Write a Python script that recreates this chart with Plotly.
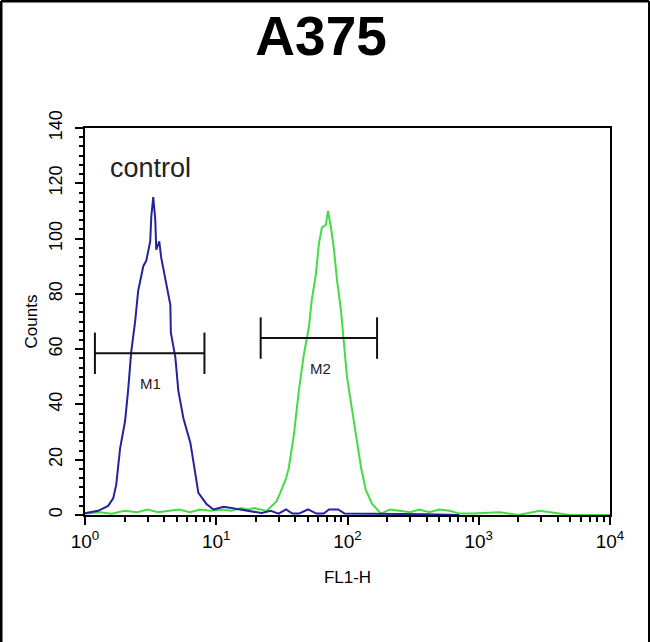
import math
import plotly.graph_objects as go

# ---- data ----
blue_x = [1.00, 1.02, 1.26, 1.50, 1.64, 1.73, 1.85, 2.02, 2.13, 2.25, 2.41, 2.54, 2.78, 2.93,
          3.14, 3.20, 3.31, 3.43, 3.49, 3.68, 3.81, 4.09, 4.47, 4.51, 4.88, 5.14, 5.62, 6.36,
          6.94, 7.31, 8.42, 9.52, 11.4, 14.8, 18.0, 22.2, 26.0, 29.9, 34.0, 38.0, 42.6, 50.0,
          58.0, 66.0, 72.2, 85.0, 95.0, 105.0, 122.0, 180.0, 248.0, 400.0, 713.0]
blue_y = [0.5, 0.7, 1.5, 3.3, 6, 11, 24, 34, 45, 59, 70, 81, 90, 92,
          99, 108, 115, 107, 96, 99, 93, 86, 76, 66, 57, 45, 35, 26,
          15, 8, 4, 2, 3, 2, 1.5, 0.7, 1.5, 0.5, 2, 0.5, 0.5, 2,
          0.5, 0.5, 2, 2, 0.5, 0.5, 0.3, 0.3, 0.3, 0.3, 0]

green_x = [1.0, 1.3, 1.6, 2.0, 2.5, 3.0, 3.6, 4.3, 5.2, 6.3, 7.5, 9.0, 11.0, 13.0, 15.5,
           17.5, 19.3, 21.8, 24.2, 28.9, 33.9, 35.7, 39.0, 42.6, 46.5, 50.8, 53.5, 57.4,
           60.5, 63.8, 68.5, 71.0, 74.8, 78.9, 83.2, 89.2, 94.0, 99.1, 106, 116, 127, 138,
           154, 180, 210, 248, 300, 352, 420, 501, 600, 713, 900, 1442, 2000, 2915, 4944,
           8380, 10000]
green_y = [0.5, 1, 0.5, 1.5, 1, 2, 1, 1.5, 2, 1, 2, 1.5, 2, 1.5, 2.5,
           2, 2.5, 2, 1.5, 5, 13, 17, 29, 45, 58, 68, 78, 87,
           98, 104, 105, 110, 104, 96, 85, 74, 63, 50, 41, 29, 17, 9,
           4, 0.5, 2, 1.5, 1, 2, 1, 2, 1.5, 0.5, 0.5, 1, 0, 1.5, 0,
           0, 0]

marker_names = ["M1", "M2"]
marker_start = [1.19, 21.8]
marker_end = [8.13, 168.0]
marker_level = [58.5, 64.0]
marker_label_x = [3.14, 62.7]
marker_label_y = [47.5, 53.0]

x_tick_vals = [1, 10, 100, 1000, 10000]
x_tick_text = ["10<sup>0</sup>", "10<sup>1</sup>", "10<sup>2</sup>", "10<sup>3</sup>", "10<sup>4</sup>"]
y_tick_vals = [0, 20, 40, 60, 80, 100, 120, 140]

title_text = "A375"
sample_label = "control"
sample_label_x = 3.14
sample_label_y = 125.5

BLUE = "#23239c"
GREEN = "#44dc44"
FONT = "Liberation Sans, Arial, sans-serif"
CAP = 7.5

fig = go.Figure()
fig.add_trace(go.Scatter(x=green_x, y=green_y, mode="lines",
                         line=dict(color=GREEN, width=2), hoverinfo="skip"))
fig.add_trace(go.Scatter(x=blue_x, y=blue_y, mode="lines",
                         line=dict(color=BLUE, width=2), hoverinfo="skip"))

for name, s, e, lv, lx, ly in zip(marker_names, marker_start, marker_end, marker_level,
                                   marker_label_x, marker_label_y):
    fig.add_trace(go.Scatter(x=[s, e], y=[lv, lv], mode="lines",
                             line=dict(color="#111111", width=2), hoverinfo="skip"))
    fig.add_trace(go.Scatter(x=[s, s], y=[lv - CAP, lv + CAP], mode="lines",
                             line=dict(color="#111111", width=2), hoverinfo="skip"))
    fig.add_trace(go.Scatter(x=[e, e], y=[lv - CAP, lv + CAP], mode="lines",
                             line=dict(color="#111111", width=2), hoverinfo="skip"))
    fig.add_annotation(x=math.log10(lx), y=ly, xref="x", yref="y", text=name,
                       showarrow=False, font=dict(family=FONT, size=15, color="#222222"))

fig.add_annotation(x=math.log10(sample_label_x), y=sample_label_y, xref="x", yref="y",
                   text=sample_label, showarrow=False,
                   font=dict(family=FONT, size=27, color="#222222"))

minor_x = [d * 10 ** k for k in range(4) for d in range(2, 10)]

fig.update_layout(
    width=650, height=642,
    margin=dict(l=85, r=40, t=128, b=127),
    paper_bgcolor="white", plot_bgcolor="white",
    showlegend=False,
    title=dict(text="<b>" + title_text + "</b>", x=0.494, xanchor="center",
               y=0.945, yanchor="middle",
               font=dict(family=FONT, size=55, color="black")),
    xaxis=dict(type="log", range=[0, 4], tickmode="array", tickvals=x_tick_vals,
               ticktext=x_tick_text, ticks="outside", ticklen=8, tickwidth=2,
               tickcolor="black", showline=True, linecolor="black", linewidth=2,
               mirror=True, showgrid=False, zeroline=False,
               tickfont=dict(family=FONT, size=19, color="black"),
               title=dict(text="FL1-H", standoff=20,
                          font=dict(family=FONT, size=17, color="black")),
               minor=dict(tickmode="array", tickvals=minor_x, ticks="outside",
                          ticklen=5, tickwidth=2, tickcolor="black", showgrid=False)),
    yaxis=dict(range=[0, 140], tickmode="array", tickvals=y_tick_vals, tickangle=-90,
               ticks="outside", ticklen=8, tickwidth=2, tickcolor="black",
               showline=True, linecolor="black", linewidth=2, mirror=True,
               showgrid=False, zeroline=False, ticklabelstandoff=6,
               tickfont=dict(family=FONT, size=18, color="black"),
               title=dict(text="Counts", standoff=4,
                          font=dict(family=FONT, size=17, color="black")),
               minor=dict(dtick=20 / 6, ticks="outside", ticklen=4, tickwidth=2,
                          tickcolor="black", showgrid=False)),
)

# outer image border (left, top, right edges)
px_l = -84 / 525
px_r = 564 / 525
py_t = 514 / 387
fig.add_shape(type="line", xref="paper", yref="paper", x0=px_l, x1=px_l,
              y0=-127 / 387, y1=py_t, line=dict(color="black", width=3))
fig.add_shape(type="line", xref="paper", yref="paper", x0=px_l, x1=px_r,
              y0=py_t, y1=py_t, line=dict(color="black", width=3))
fig.add_shape(type="line", xref="paper", yref="paper", x0=px_r, x1=px_r,
              y0=-127 / 387, y1=py_t, line=dict(color="black", width=2))

fig.write_html("out.html", config={"displayModeBar": False},
               post_script="document.body.style.margin='0';")
